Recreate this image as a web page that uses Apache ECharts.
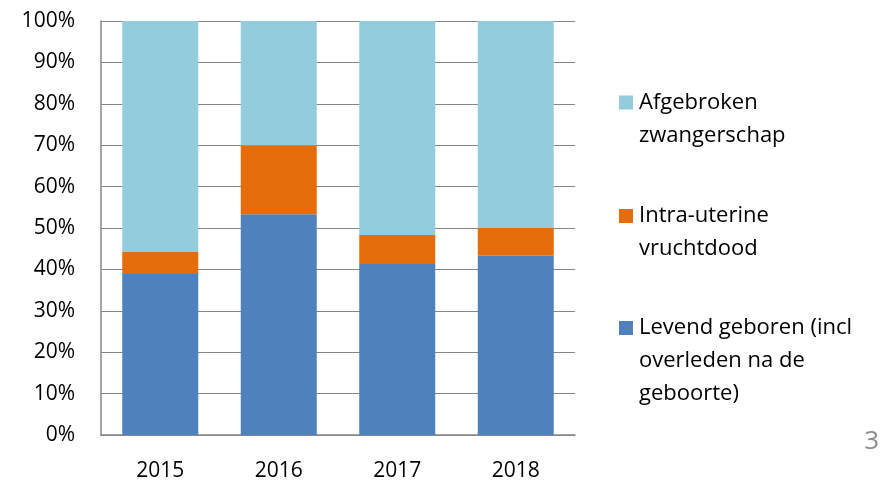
<!DOCTYPE html>
<html>
<head>
<meta charset="utf-8">
<script src="https://cdn.jsdelivr.net/npm/echarts@6/dist/echarts.min.js"></script>
<style>html,body{margin:0;padding:0;background:#fff}#c{width:882px;height:482px}</style>
</head>
<body>
<div id="c"></div>
<script>
var categories = ['2015', '2016', '2017', '2018'];
var levend = [38.9, 53.3, 41.3, 43.3];
var intraUterine = [5.4, 16.7, 7.0, 6.7];
var afgebroken = [55.7, 30.0, 51.7, 50.0];
var seriesNames = ['Levend geboren (incl\noverleden na de\ngeboorte)', 'Intra-uterine\nvruchtdood', 'Afgebroken\nzwangerschap'];
var yTicks = [0, 10, 20, 30, 40, 50, 60, 70, 80, 90, 100];

var FONT = 'Open Sans';
var COLORS = ['#4F81BD', '#E46C0A', '#93CDDD'];
var chart = echarts.init(document.getElementById('c'));

// legend drawn as graphic (marker aligned with first text line, as in the reference)
var legendOrder = [2, 1, 0];
var legendFirstLine = [102.5, 216, 328];
var legendGraphic = [];
legendOrder.forEach(function (si, k) {
  var cy = legendFirstLine[k];
  legendGraphic.push({ type: 'rect', left: 619, top: cy - 7, shape: { width: 14, height: 14 }, style: { fill: COLORS[si] } });
  legendGraphic.push({ type: 'text', left: 639, top: cy - 16.5,
    style: { text: seriesNames[si], font: '22px "' + FONT + '"', fill: '#000', lineHeight: 33, verticalAlign: 'top' } });
});

chart.setOption({
  animation: false,
  title: { text: '3', right: -2, top: 424, textStyle: { fontFamily: FONT, fontWeight: 'normal', fontSize: 26, color: '#8c8c8c' } },
  grid: { left: 101, right: 307, top: 21, bottom: 45.5, containLabel: false },
  graphic: legendGraphic,
  xAxis: {
    type: 'category', data: categories,
    axisLine: { lineStyle: { color: '#868686', width: 1.5 } },
    axisTick: { show: false },
    axisLabel: { fontFamily: FONT, fontSize: 21, color: '#000', margin: 26 }
  },
  yAxis: {
    type: 'value', min: 0, max: 100, interval: 10,
    axisLine: { show: true, lineStyle: { color: '#868686', width: 1.5 } },
    axisTick: { show: false },
    splitLine: { lineStyle: { color: '#868686', width: 1 } },
    axisLabel: { fontFamily: FONT, fontSize: 21, color: '#000', margin: 26,
      formatter: function (v) { return yTicks.indexOf(v) >= 0 ? v + '%' : ''; } }
  },
  series: [
    { name: seriesNames[0], type: 'bar', stack: 't', data: levend, barWidth: 76, itemStyle: { color: COLORS[0] } },
    { name: seriesNames[1], type: 'bar', stack: 't', data: intraUterine, barWidth: 76, itemStyle: { color: COLORS[1] } },
    { name: seriesNames[2], type: 'bar', stack: 't', data: afgebroken, barWidth: 76, itemStyle: { color: COLORS[2] } }
  ]
});
</script>
</body>
</html>
